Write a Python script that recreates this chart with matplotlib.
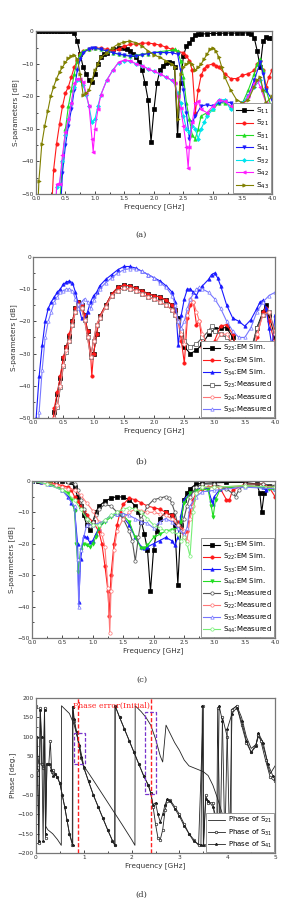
import matplotlib
matplotlib.use("Agg")
import matplotlib.pyplot as plt
from matplotlib.ticker import AutoMinorLocator, MultipleLocator
from matplotlib.patches import Rectangle

# ---------------- Panel (a) data (GHz, dB) ----------------
a_s11 = [(0,0),(0.05,0),(0.1,0),(0.15,0),(0.2,0),(0.25,0),(0.3,0),(0.35,0),(0.4,0),(0.45,0),(0.5,0),(0.55,0),(0.6,0),
         (0.65,-0.5),(0.7,-3),(0.75,-7),(0.8,-11),(0.85,-13),(0.9,-15),(0.95,-15.5),(1.0,-13),(1.05,-10),(1.1,-8),(1.15,-7),
         (1.2,-6.5),(1.3,-5.5),(1.4,-5),(1.5,-5.2),(1.55,-5.5),(1.6,-6),(1.65,-7),(1.7,-8),(1.75,-9.5),(1.8,-12),(1.85,-16),
         (1.9,-21),(1.95,-34),(2.0,-24),(2.05,-16),(2.1,-12),(2.15,-10.5),(2.2,-9.8),(2.25,-9.5),(2.3,-9.7),(2.35,-11),
         (2.4,-32),(2.45,-16),(2.5,-7.5),(2.55,-4.5),(2.6,-3.5),(2.65,-2.3),(2.7,-1.2),(2.75,-0.8),(2.8,-0.8),(2.9,-0.7),
         (3.0,-0.6),(3.1,-0.6),(3.2,-0.5),(3.3,-0.5),(3.4,-0.5),(3.5,-0.4),(3.6,-0.5),(3.65,-0.8),(3.7,-2),(3.75,-6),
         (3.8,-11),(3.85,-3),(3.9,-1.8),(3.95,-2),(4.0,-2)]
a_s21 = [(0.25,-60),(0.3,-42.5),(0.35,-34.5),(0.4,-28.5),(0.45,-23),(0.5,-19),(0.55,-17),(0.6,-14),(0.65,-11),(0.7,-9),
         (0.75,-7),(0.8,-6),(0.9,-5.5),(1.0,-5),(1.1,-5.2),(1.2,-5.5),(1.3,-6),(1.4,-5.5),(1.5,-4.5),(1.6,-4),(1.7,-3.8),
         (1.8,-3.6),(1.9,-3.6),(2.0,-3.8),(2.1,-4.2),(2.2,-4.8),(2.3,-5.5),(2.4,-6.2),(2.5,-6.5),(2.55,-7.5),(2.6,-9),
         (2.65,-12),(2.7,-25),(2.75,-18),(2.8,-13.5),(2.85,-11.5),(2.9,-10.5),(3.0,-10),(3.05,-10.5),(3.1,-11),(3.2,-13),
         (3.3,-14.5),(3.4,-14.5),(3.5,-13.5),(3.6,-13),(3.7,-12),(3.75,-10),(3.8,-9),(3.85,-12),(3.9,-17),(3.95,-14),(4.0,-12)]
a_s31 = [(0.38,-60),(0.45,-40),(0.5,-30),(0.55,-23),(0.6,-18),(0.65,-13),(0.7,-9),(0.75,-7),(0.8,-6),(0.9,-5.3),
         (1.0,-5),(1.1,-5.5),(1.2,-6),(1.3,-6.5),(1.4,-7),(1.5,-7.2),(1.6,-7.5),(1.7,-7.3),(1.8,-7),(1.9,-6.8),(2.0,-6.5),
         (2.1,-6.2),(2.2,-6),(2.3,-5.8),(2.35,-5.5),(2.4,-6),(2.45,-9),(2.5,-14),(2.55,-22),(2.6,-27),(2.65,-32),(2.7,-33),
         (2.75,-30),(2.8,-26),(2.9,-25),(3.0,-24),(3.1,-22),(3.2,-22),(3.3,-23),(3.4,-24),(3.5,-22),(3.6,-18),(3.7,-13),
         (3.75,-10),(3.8,-8.5),(3.85,-12),(3.9,-18),(4.0,-24)]
a_s41 = [(0.4,-60),(0.45,-43.5),(0.5,-35),(0.55,-29),(0.6,-24),(0.65,-18),(0.7,-12),(0.75,-8.5),(0.8,-6.5),(0.9,-5.5),
         (0.95,-5),(1.0,-5.2),(1.1,-5.5),(1.2,-6),(1.3,-6.5),(1.4,-7),(1.5,-7.3),(1.6,-7.7),(1.7,-7.5),(1.8,-7.2),(1.9,-6.8),
         (2.0,-6.5),(2.1,-6.5),(2.2,-6.5),(2.3,-6.5),(2.4,-7),(2.45,-12),(2.5,-18),(2.55,-25),(2.6,-33),(2.65,-28),(2.7,-26),
         (2.8,-23),(2.9,-22.5),(3.0,-23),(3.1,-22),(3.2,-21.5),(3.3,-22),(3.4,-23),(3.5,-22),(3.6,-20),(3.7,-15),(3.8,-9.5),
         (3.85,-13),(3.9,-18),(4.0,-21)]
a_s32 = [(0.33,-60),(0.35,-48),(0.4,-47),(0.45,-40),(0.5,-32),(0.55,-27),(0.6,-22),(0.65,-17),(0.7,-15),(0.75,-15),
         (0.8,-16.5),(0.85,-19.5),(0.9,-23),(0.95,-28),(1.0,-27),(1.05,-23),(1.1,-19.5),(1.2,-15),(1.3,-12),(1.4,-9.6),
         (1.5,-9),(1.6,-9.2),(1.7,-10),(1.8,-10.6),(1.9,-11.5),(2.0,-12.3),(2.1,-13),(2.2,-14),(2.3,-15),(2.35,-16),
         (2.4,-19),(2.45,-22),(2.5,-26),(2.55,-30),(2.6,-31),(2.65,-29),(2.7,-30),(2.75,-33),(2.8,-30),(2.85,-28),(2.9,-26),
         (3.0,-24),(3.1,-21),(3.2,-21),(3.3,-24),(3.4,-25),(3.5,-22),(3.6,-20),(3.7,-17),(3.8,-15),(3.85,-18),(3.9,-22),(4.0,-26)]
a_s42 = [(0.33,-60),(0.35,-47),(0.4,-47),(0.45,-38),(0.5,-31),(0.55,-27),(0.6,-22),(0.65,-16),(0.7,-14.5),(0.75,-14.5),
         (0.8,-15.5),(0.85,-19),(0.9,-23),(0.95,-33),(0.97,-37),(1.0,-30),(1.05,-24),(1.1,-19.5),(1.2,-15),(1.3,-12),
         (1.4,-9.5),(1.5,-8.8),(1.6,-9),(1.7,-10),(1.8,-10.5),(1.9,-11.5),(2.0,-12.3),(2.1,-13),(2.2,-14),(2.3,-15),
         (2.35,-16),(2.4,-20),(2.45,-23.5),(2.5,-29),(2.55,-35.5),(2.58,-42),(2.6,-35.5),(2.65,-28),(2.7,-22),(2.75,-21.5),
         (2.8,-24),(2.9,-25),(3.0,-23),(3.1,-21),(3.2,-21.5),(3.3,-23),(3.4,-24),(3.5,-23),(3.6,-20),(3.7,-16),(3.75,-15),
         (3.8,-17),(3.9,-22),(4.0,-25)]
a_s43 = [(0.02,-60),(0.05,-46),(0.1,-34.5),(0.15,-29),(0.2,-24.5),(0.25,-20),(0.3,-17),(0.35,-14.5),(0.4,-12.5),(0.45,-11),
         (0.5,-9.5),(0.55,-8.3),(0.6,-7.5),(0.65,-7.3),(0.7,-8.5),(0.75,-13),(0.8,-19.5),(0.85,-19),(0.9,-18),(0.95,-15),
         (1.0,-12),(1.05,-10),(1.1,-8),(1.2,-6.5),(1.3,-5),(1.4,-3.8),(1.5,-3.2),(1.6,-3),(1.7,-3.5),(1.8,-4.5),(1.9,-6),
         (2.0,-7.2),(2.1,-8),(2.2,-9),(2.3,-10),(2.35,-11),(2.4,-27),(2.45,-13),(2.5,-11),(2.55,-10),(2.6,-9.5),(2.65,-10),
         (2.7,-12),(2.75,-11),(2.8,-10),(2.85,-8.5),(2.9,-7),(2.95,-5.5),(3.0,-5),(3.05,-6),(3.1,-8),(3.15,-11),(3.2,-14),
         (3.3,-18),(3.4,-21),(3.5,-22),(3.6,-21),(3.7,-17),(3.75,-15),(3.8,-14),(3.85,-18),(3.9,-22),(4.0,-20)]
a_labels = ["S$_{11}$","S$_{21}$","S$_{31}$","S$_{41}$","S$_{32}$","S$_{42}$","S$_{43}$"]

# ---------------- Panel (b) data ----------------
b_s34_em = [(0.05,-50),(0.1,-37),(0.15,-27.5),(0.2,-20),(0.25,-16),(0.3,-14),(0.35,-12.5),(0.4,-11),(0.45,-10),(0.5,-8.5),
            (0.55,-7.8),(0.6,-7.5),(0.65,-8),(0.7,-11),(0.75,-15),(0.8,-19),(0.85,-19.5),(0.9,-17),(0.95,-14),(1.0,-12),
            (1.05,-11),(1.1,-9),(1.2,-7),(1.3,-5.5),(1.4,-4),(1.5,-3),(1.6,-3),(1.7,-3.5),(1.8,-4.5),(1.9,-5.5),(2.0,-6.5),
            (2.1,-7.5),(2.2,-9),(2.3,-11),(2.35,-14),(2.4,-27.5),(2.45,-18),(2.5,-13),(2.55,-10),(2.6,-10),(2.65,-11),
            (2.7,-12),(2.75,-10),(2.8,-9),(2.9,-7),(2.95,-5.5),(3.0,-5),(3.05,-6.5),(3.1,-9),(3.2,-15),(3.3,-19),(3.4,-20),
            (3.5,-21.5),(3.6,-19.5),(3.7,-16),(3.75,-14),(3.8,-13.5),(3.85,-16),(3.9,-22),(3.95,-28),(4.0,-18)]
b_s34_ms = [(0.08,-60),(0.1,-48),(0.15,-35),(0.2,-25),(0.25,-20),(0.3,-17),(0.35,-14),(0.4,-12.5),(0.45,-11),(0.5,-10.5),
            (0.55,-10),(0.6,-10),(0.65,-10.5),(0.7,-13),(0.75,-16),(0.8,-14),(0.85,-13),(0.9,-14),(0.95,-16),(1.0,-13.5),
            (1.1,-10),(1.2,-8),(1.3,-6.5),(1.4,-5),(1.5,-4),(1.6,-3.7),(1.7,-3.8),(1.8,-4.5),(1.9,-5.5),(2.0,-6.5),(2.1,-8),
            (2.2,-9.5),(2.3,-12),(2.35,-15),(2.4,-20),(2.45,-22),(2.5,-20),(2.55,-16),(2.6,-13),(2.7,-10),(2.75,-9.5),
            (2.8,-10),(2.9,-11),(3.0,-13),(3.1,-16),(3.2,-20),(3.3,-23),(3.4,-25),(3.5,-25),(3.6,-22),(3.7,-17),(3.8,-14),
            (3.9,-12),(4.0,-11)]
b_s24_em = [(0.3,-55),(0.35,-47),(0.4,-42),(0.45,-37),(0.5,-31),(0.55,-28),(0.6,-24),(0.65,-20),(0.7,-16),(0.75,-14),
            (0.8,-15),(0.85,-18),(0.9,-23),(0.95,-30),(0.97,-37),(1.0,-30),(1.05,-24),(1.1,-18.5),(1.2,-15),(1.3,-11.5),
            (1.4,-9.5),(1.5,-8.8),(1.6,-9),(1.7,-9.8),(1.8,-10.5),(1.9,-11.5),(2.0,-12),(2.1,-12.5),(2.2,-13.5),(2.3,-15),
            (2.35,-16.5),(2.4,-20),(2.45,-26),(2.5,-33),(2.55,-19),(2.6,-15),(2.65,-14),(2.7,-21),(2.75,-20),(2.8,-28),
            (2.9,-30),(3.0,-26),(3.1,-21.5),(3.2,-21),(3.3,-24),(3.4,-32),(3.5,-45),(3.6,-38),(3.7,-25),(3.8,-17),
            (3.85,-16),(3.9,-20),(4.0,-27)]
b_s23_em = [(0.3,-56),(0.35,-48),(0.4,-42.5),(0.45,-37.5),(0.5,-31.5),(0.55,-28),(0.6,-24.5),(0.65,-20),(0.7,-16),
            (0.75,-14),(0.8,-15),(0.85,-18),(0.9,-23),(0.95,-30),(1.0,-30),(1.05,-24),(1.1,-18.5),(1.2,-15),(1.3,-11.5),
            (1.4,-9.5),(1.5,-8.8),(1.6,-9),(1.7,-9.8),(1.8,-10.5),(1.9,-11.5),(2.0,-12),(2.1,-12.5),(2.2,-13.5),(2.3,-15),
            (2.35,-16.5),(2.4,-19),(2.45,-24),(2.5,-28),(2.6,-30),(2.7,-29),(2.8,-27),(2.9,-24),(3.0,-22.5),(3.1,-22),
            (3.2,-22),(3.3,-25),(3.4,-30),(3.5,-35),(3.6,-30),(3.7,-22),(3.8,-17),(3.85,-15),(3.9,-18),(4.0,-25)]
b_s24_ms = [(0.33,-55),(0.35,-50),(0.4,-46),(0.45,-40),(0.5,-33.5),(0.55,-29),(0.6,-26),(0.65,-21),(0.7,-17),(0.75,-15),
            (0.8,-16),(0.85,-19.5),(0.9,-25),(0.95,-31),(1.0,-26),(1.05,-21),(1.1,-19),(1.2,-15.5),(1.3,-12),(1.4,-10.5),
            (1.5,-9.8),(1.6,-10),(1.7,-10.5),(1.8,-11.5),(1.9,-12.5),(2.0,-13),(2.1,-14),(2.2,-15),(2.3,-16.5),(2.35,-18),
            (2.4,-20),(2.45,-24),(2.5,-27),(2.55,-18),(2.6,-13),(2.65,-14),(2.7,-17),(2.75,-20),(2.8,-24),(2.9,-28),
            (3.0,-27),(3.1,-24),(3.2,-24),(3.3,-27),(3.4,-33),(3.5,-40),(3.6,-35),(3.7,-24),(3.8,-18),(3.9,-17),(4.0,-24)]
b_s23_ms = [(0.33,-56),(0.35,-51),(0.4,-46.5),(0.45,-40.5),(0.5,-34),(0.55,-29.5),(0.6,-26),(0.65,-21),(0.7,-17),
            (0.75,-15),(0.8,-16),(0.85,-19.5),(0.9,-25),(0.95,-31),(1.0,-26),(1.05,-21),(1.1,-19),(1.2,-15.5),(1.3,-12),
            (1.4,-10.5),(1.5,-9.8),(1.6,-10),(1.7,-10.5),(1.8,-11.5),(1.9,-12.5),(2.0,-13),(2.1,-14),(2.2,-15),(2.3,-16.5),
            (2.35,-18),(2.4,-20),(2.45,-23),(2.5,-26),(2.6,-28),(2.7,-27),(2.8,-25),(2.9,-23),(2.95,-21.5),(3.0,-23),
            (3.1,-24),(3.2,-25),(3.3,-27),(3.4,-31),(3.5,-34),(3.6,-29),(3.7,-22),(3.8,-18),(3.9,-17),(4.0,-23)]
b_labels = ["S$_{23}$:EM Sim.","S$_{24}$:EM Sim.","S$_{34}$:EM Sim.",
            "S$_{23}$:Measured","S$_{24}$:Measured","S$_{34}$:Measured"]

# ---------------- Panel (c) data ----------------
c_s11_em = [(0,0),(0.1,0),(0.2,0),(0.3,0),(0.4,0),(0.5,0),(0.6,0),(0.65,-0.5),(0.7,-2),(0.75,-5),(0.8,-8),(0.85,-11),
            (0.9,-14),(0.95,-15.5),(1.0,-13),(1.05,-10),(1.1,-8),(1.2,-6.5),(1.3,-5.5),(1.4,-5),(1.5,-5.2),(1.6,-6),
            (1.7,-8),(1.75,-10),(1.8,-13),(1.85,-17),(1.9,-22),(1.95,-35),(2.0,-22),(2.05,-16),(2.1,-12),(2.2,-10),
            (2.3,-11),(2.35,-14),(2.4,-33),(2.45,-14),(2.5,-6),(2.55,-4),(2.6,-2.5),(2.7,-1),(2.8,-0.8),(3.0,-0.6),
            (3.2,-0.5),(3.5,-0.5),(3.7,-1),(3.75,-4),(3.78,-10),(3.82,-4),(3.9,-1.5),(4.0,-2)]
c_s11_ms = [(0,0),(0.2,0),(0.4,-0.1),(0.6,-0.3),(0.7,-1),(0.75,-3),(0.8,-6),(0.85,-9),(0.9,-12),(0.95,-14.5),(1.0,-13),
            (1.05,-11),(1.1,-9),(1.2,-7.5),(1.3,-8),(1.4,-10),(1.5,-12),(1.6,-16),(1.65,-19),(1.7,-25.5),(1.75,-18),
            (1.8,-12),(1.9,-8),(2.0,-6),(2.1,-5.5),(2.2,-5),(2.25,-5.5),(2.3,-7),(2.35,-10),(2.4,-14),(2.45,-16),(2.5,-12),
            (2.55,-8),(2.6,-5),(2.7,-2),(2.8,-1),(3.0,-1),(3.2,-2.5),(3.3,-4),(3.35,-5),(3.4,-3),(3.5,-1),(3.8,-1),(4.0,-1.5)]
c_s22_em = [(0,0),(0.15,-0.2),(0.3,-0.5),(0.5,-1.5),(0.6,-2),(0.65,-3),(0.7,-5),(0.75,-6.5),(0.8,-8),(0.85,-9.5),
            (0.9,-11),(1.0,-13),(1.1,-16),(1.15,-20),(1.2,-27),(1.25,-35),(1.27,-43),(1.3,-30),(1.35,-20),(1.4,-14),
            (1.45,-10),(1.5,-7.5),(1.6,-5.5),(1.7,-6),(1.8,-7),(1.9,-8),(2.0,-8.5),(2.1,-9),(2.2,-10),(2.3,-11),(2.4,-13),
            (2.45,-15),(2.5,-18),(2.55,-16),(2.6,-10),(2.65,-6),(2.7,-4),(2.8,-2.5),(2.9,-2),(3.0,-1.5),(3.1,-2.5),
            (3.2,-6),(3.25,-6),(3.3,-3),(3.5,-1),(3.8,-1),(3.9,-2),(4.0,-5)]
c_s22_ms = [(0,0),(0.2,-0.5),(0.4,-1.2),(0.5,-2),(0.6,-2.5),(0.7,-3),(0.8,-4.5),(0.9,-7),(1.0,-9.5),(1.1,-13),
            (1.15,-17),(1.2,-21),(1.25,-34),(1.28,-48.5),(1.3,-35),(1.35,-22),(1.4,-16),(1.5,-12),(1.6,-10),(1.7,-9),
            (1.8,-9.5),(1.9,-10),(2.0,-10),(2.1,-10.5),(2.2,-11),(2.3,-12),(2.4,-14),(2.5,-16),(2.55,-19),(2.6,-12),
            (2.65,-8),(2.7,-4),(2.8,-2),(3.0,-2),(3.1,-2),(3.5,-1.5),(4.0,-2)]
c_s33_em = [(0,0),(0.15,-0.4),(0.3,-1),(0.5,-3),(0.6,-5),(0.65,-7),(0.7,-9),(0.75,-20),(0.77,-38.5),(0.8,-25),
            (0.85,-17.5),(0.9,-18),(0.95,-19.5),(1.0,-19),(1.05,-17),(1.1,-15),(1.2,-12.5),(1.3,-11),(1.4,-10.5),
            (1.5,-11.5),(1.6,-14),(1.7,-18),(1.8,-21),(1.85,-21.5),(1.9,-21),(2.0,-20),(2.1,-19),(2.2,-18),(2.3,-19),
            (2.35,-20.5),(2.4,-18),(2.45,-11),(2.5,-6),(2.6,-4),(2.7,-3),(2.8,-2),(2.9,-2.5),(2.95,-6),(2.98,-7.5),
            (3.0,-5),(3.1,-2.5),(3.5,-1.5),(3.8,-2),(3.85,-3),(4.0,-2.5)]
c_s33_ms = [(0,0),(0.25,-1),(0.5,-3),(0.7,-8),(0.75,-25),(0.77,-40),(0.8,-22),(0.9,-14),(1.0,-14),(1.1,-13.5),
            (1.2,-12.5),(1.3,-11),(1.4,-10.5),(1.5,-10.5),(1.6,-11),(1.7,-12),(1.8,-13),(1.9,-13.5),(2.0,-15),(2.1,-13),
            (2.2,-12),(2.3,-13),(2.4,-15),(2.5,-17),(2.55,-15),(2.6,-8),(2.7,-5),(2.8,-3.5),(3.0,-3),(3.5,-2),(4.0,-2.5)]
c_s44_em = [(0,0),(0.15,-0.4),(0.3,-1),(0.5,-2.5),(0.6,-4),(0.65,-6),(0.7,-9.5),(0.73,-20),(0.76,-29),(0.8,-22),
            (0.85,-20),(0.9,-20.5),(0.95,-21),(1.0,-20),(1.05,-18),(1.1,-15),(1.2,-13),(1.3,-11.5),(1.4,-10.5),(1.5,-11),
            (1.6,-13),(1.7,-18),(1.8,-21.5),(1.85,-21.5),(1.9,-20.5),(2.0,-18),(2.1,-17),(2.2,-16),(2.3,-15.5),(2.4,-15),
            (2.45,-13),(2.5,-7),(2.6,-4),(2.7,-3),(2.8,-2.5),(2.9,-3),(2.95,-8),(2.98,-11.5),(3.02,-6),(3.1,-2.5),
            (3.5,-1.5),(3.9,-2.5),(4.0,-3)]
c_s44_ms = [(0,0),(0.25,-1),(0.5,-3),(0.7,-6),(0.8,-9),(0.9,-12),(1.0,-14),(1.1,-14),(1.2,-12.5),(1.3,-11),(1.4,-10),
            (1.5,-9),(1.6,-8.5),(1.7,-9),(1.8,-10),(1.9,-12),(2.0,-14),(2.1,-15),(2.2,-16),(2.3,-16),(2.4,-17),(2.45,-19),
            (2.5,-18),(2.55,-20),(2.6,-24),(2.65,-10),(2.7,-4),(2.8,-2),(3.0,-2),(3.5,-1.5),(4.0,-2)]
c_labels = ["S$_{11}$:EM Sim.","S$_{22}$:EM Sim.","S$_{33}$:EM Sim.","S$_{44}$:EM Sim.",
            "S$_{11}$:Measured","S$_{22}$:Measured","S$_{33}$:Measured","S$_{44}$:Measured"]

# ---------------- Panel (d) data (GHz, deg) ----------------
d_s21 = [(0,100),(0.03,60),(0.06,30),(0.1,30),(0.15,30),(0.19,25),(0.2,-130),(0.25,-140),(0.35,-150),(0.45,-165),
         (0.53,-180),(0.535,180),(0.6,172),(0.7,160),(0.8,130),(0.9,85),(1.0,25),(1.2,-12),(1.4,-50),(1.6,-88),
         (1.8,-126),(2.0,-165),(2.07,-180),(2.075,180),(2.2,165),(2.3,150),(2.4,130),(2.5,95),(2.6,50),(2.65,35),
         (2.72,130),(2.8,110),(2.9,85),(3.0,65),(3.1,40),(3.2,25),(3.4,15),(3.5,10),(3.6,0),(3.7,-25),(3.8,-60),
         (3.9,-100),(4.0,-150),(4.08,-180),(4.085,170),(4.15,175),(4.2,180),(4.3,150),(4.4,100),(4.5,70),(4.6,80),
         (4.65,100),(4.7,95),(4.8,55),(4.85,25),(4.9,5),(5.0,25)]
d_s31 = [(0,180),(0.03,15),(0.06,-175),(0.09,175),(0.12,30),(0.15,20),(0.18,175),(0.2,-160),(0.23,30),(0.27,30),
         (0.3,90),(0.33,10),(0.36,15),(0.4,5),(0.45,-5),(0.5,-20),(0.55,-50),(0.6,-80),(0.65,-115),(0.7,-150),
         (0.76,-178),(0.765,178),(0.8,140),(0.85,110),(0.9,75),(0.95,45),(1.0,20),(1.1,-15),(1.2,-50),(1.3,-80),
         (1.4,-110),(1.5,-140),(1.6,-168),(1.65,-180),(1.655,180),(1.75,150),(1.85,120),(1.95,90),(2.05,60),
         (2.15,30),(2.25,0),(2.35,-25),(2.4,-45),(2.45,-80),(2.5,-125),(2.55,-160),(2.6,-165),(2.65,-140),
         (2.7,-90),(2.75,-65),(2.8,-62),(2.9,-80),(3.0,-100),(3.1,-125),(3.2,-150),(3.3,-165),(3.4,-180),
         (3.5,180),(3.505,-180),(3.55,-50),(3.6,-70),(3.7,-70),(3.75,-120),(3.78,-180),(3.8,175),(3.85,-180),
         (3.9,150),(4.0,100),(4.05,-180),(4.1,170),(4.2,180),(4.3,130),(4.4,85),(4.5,60),(4.6,80),(4.65,105),
         (4.7,90),(4.8,40),(4.9,-5),(5.0,-15)]
d_s41 = [(0,20),(0.03,100),(0.06,-170),(0.09,170),(0.12,100),(0.15,-170),(0.18,170),(0.2,-150),(0.23,30),
         (0.28,30),(0.32,15),(0.36,0),(0.4,5),(0.45,-5),(0.5,-20),(0.55,-50),(0.6,-80),(0.65,-115),(0.7,-150),
         (0.77,-178),(0.775,178),(0.8,145),(0.85,112),(0.9,78),(0.95,47),(1.0,22),(1.1,-15),(1.2,-50),(1.3,-80),
         (1.4,-110),(1.5,-140),(1.6,-168),(1.65,-180),(1.655,180),(1.75,150),(1.85,120),(1.95,90),(2.05,60),
         (2.15,30),(2.25,0),(2.35,-25),(2.4,-45),(2.45,-75),(2.5,-70),(2.55,-100),(2.6,-120),(2.65,-100),(2.7,-75),
         (2.75,-60),(2.8,-65),(2.9,-85),(3.0,-105),(3.1,-130),(3.2,-150),(3.3,-170),(3.45,-180),(3.48,180),
         (3.5,-180),(3.55,-60),(3.6,-65),(3.7,-80),(3.8,-120),(3.83,180),(3.9,140),(3.95,-180),(4.0,120),
         (4.1,160),(4.2,175),(4.3,140),(4.4,90),(4.5,60),(4.6,75),(4.65,110),(4.75,85),(4.85,30),(4.95,0),(5.0,-10)]
d_labels = ["Phase of S$_{21}$","Phase of S$_{31}$","Phase of S$_{41}$"]
phase_err_freqs = [0.88, 2.4]
phase_err_boxes = [(0.8, 30, 0.22, 80), (2.29, -47, 0.22, 211)]

# ---------------- drawing ----------------
BLACK, RED, GREEN, BLUE, CYAN, MAG, OLIVE = "#000000", "#ff1a1a", "#22dd22", "#1a1aff", "#00e5ee", "#ff1aff", "#808000"
ms = 2.4
lw = 0.8

fig = plt.figure(figsize=(2.83, 8.98), dpi=100)

def style(ax, xlim, ylim, xmaj, ymaj, ylabel):
    ax.set_xlim(*xlim); ax.set_ylim(*ylim)
    ax.xaxis.set_major_locator(MultipleLocator(xmaj))
    ax.yaxis.set_major_locator(MultipleLocator(ymaj))
    ax.xaxis.set_minor_locator(AutoMinorLocator(2))
    ax.yaxis.set_minor_locator(AutoMinorLocator(2))
    ax.tick_params(which="both", direction="in", labelsize=4.2, width=0.5, pad=1.5,
                   top=False, right=False, labelcolor="#333333")
    ax.tick_params(which="major", length=2.2)
    ax.tick_params(which="minor", length=1.2)
    for s in ax.spines.values():
        s.set_color("#777777"); s.set_linewidth(0.9)
    ax.set_xlabel("Frequency [GHz]", fontsize=5.2, labelpad=1.5, color="#333333")
    ax.set_ylabel(ylabel, fontsize=5.2, labelpad=1.5, color="#333333")

def draw(ax, pts, color, marker, label, mfc=None, msz=ms, lwd=lw, z=2):
    f = [p[0] for p in pts]; v = [p[1] for p in pts]
    ax.plot(f, v, color=color, marker=marker, ms=msz, lw=lwd, label=label,
            mfc=mfc if mfc else color, mec=color, mew=0.5, zorder=z)

def legend(ax, fs, ls, hl=2.4):
    lg = ax.legend(loc="lower right", fontsize=fs, handlelength=hl, labelspacing=ls,
                   borderaxespad=0.1, frameon=True, fancybox=False, borderpad=0.35,
                   handletextpad=0.4, framealpha=1)
    lg.get_frame().set_edgecolor("#888888"); lg.get_frame().set_linewidth(0.6)

# (a)
ax = fig.add_axes([0.127, 0.784, 0.834, 0.181])
draw(ax, a_s11, BLACK, "s", a_labels[0])
draw(ax, a_s21, RED, "o", a_labels[1])
draw(ax, a_s31, GREEN, "^", a_labels[2])
draw(ax, a_s41, BLUE, "v", a_labels[3])
draw(ax, a_s32, CYAN, "D", a_labels[4], msz=2.0)
draw(ax, a_s42, MAG, "<", a_labels[5])
draw(ax, a_s43, OLIVE, ">", a_labels[6])
style(ax, (0, 4), (-50, 0), 0.5, 10, "S-parameters [dB]")
legend(ax, 5.4, 0.3, hl=2.2)

# (b)
ax = fig.add_axes([0.117, 0.5345, 0.855, 0.1795])
draw(ax, b_s23_em, BLACK, "s", b_labels[0])
draw(ax, b_s24_em, RED, "o", b_labels[1])
draw(ax, b_s34_em, BLUE, "^", b_labels[2])
draw(ax, b_s23_ms, "#555555", "s", b_labels[3], mfc="white")
draw(ax, b_s24_ms, "#ff7777", "o", b_labels[4], mfc="white")
draw(ax, b_s34_ms, "#7777ff", "^", b_labels[5], mfc="white")
style(ax, (0, 4), (-50, 0), 0.5, 10, "S-parameters [dB]")
legend(ax, 5.0, 0.3)

# (c)
ax = fig.add_axes([0.113, 0.2895, 0.859, 0.175])
draw(ax, c_s11_em, BLACK, "s", c_labels[0])
draw(ax, c_s22_em, RED, "o", c_labels[1])
draw(ax, c_s33_em, BLUE, "^", c_labels[2])
draw(ax, c_s44_em, GREEN, "v", c_labels[3])
draw(ax, c_s11_ms, "#555555", "o", c_labels[4], mfc="white")
draw(ax, c_s22_ms, "#ff7777", "o", c_labels[5], mfc="white")
draw(ax, c_s33_ms, "#7777ff", "^", c_labels[6], mfc="white")
draw(ax, c_s44_ms, "#77ee77", "o", c_labels[7], mfc="white")
style(ax, (0, 4), (-50, 0), 0.5, 10, "S-parameters [dB]")
legend(ax, 5.0, 0.27)

# (d)
ax = fig.add_axes([0.127, 0.050, 0.845, 0.1727])
draw(ax, d_s21, "#222222", None, d_labels[0], lwd=0.6)
draw(ax, d_s31, "#222222", "o", d_labels[1], mfc="white", msz=1.8, lwd=0.6)
draw(ax, d_s41, "#222222", "*", d_labels[2], msz=2.0, lwd=0.6)
style(ax, (0, 5), (-200, 200), 1, 50, "Phase [deg.]")
for fq in phase_err_freqs:
    ax.axvline(fq, color="#ff2222", ls=(0, (3, 1.5)), lw=1.0, zorder=4)
for (x0, y0, w, h) in phase_err_boxes:
    ax.add_patch(Rectangle((x0, y0), w, h, fill=False, ec="#7733cc", ls=(0, (3, 1.5)), lw=0.9, zorder=5))
ax.text(1.58, 180, "Phase error(Initial)", color="#ff2222", fontsize=5.6, ha="center", va="center",
        family="DejaVu Serif", zorder=6)
legend(ax, 5.0, 0.3)

# captions
for y, t in [(0.738, "(a)"), (0.4855, "(b)"), (0.243, "(c)"), (0.004, "(d)")]:
    fig.text(0.5, y, t, fontsize=6, ha="center", va="center", family="DejaVu Serif", color="#333333")

fig.savefig("out.png", dpi=100)
